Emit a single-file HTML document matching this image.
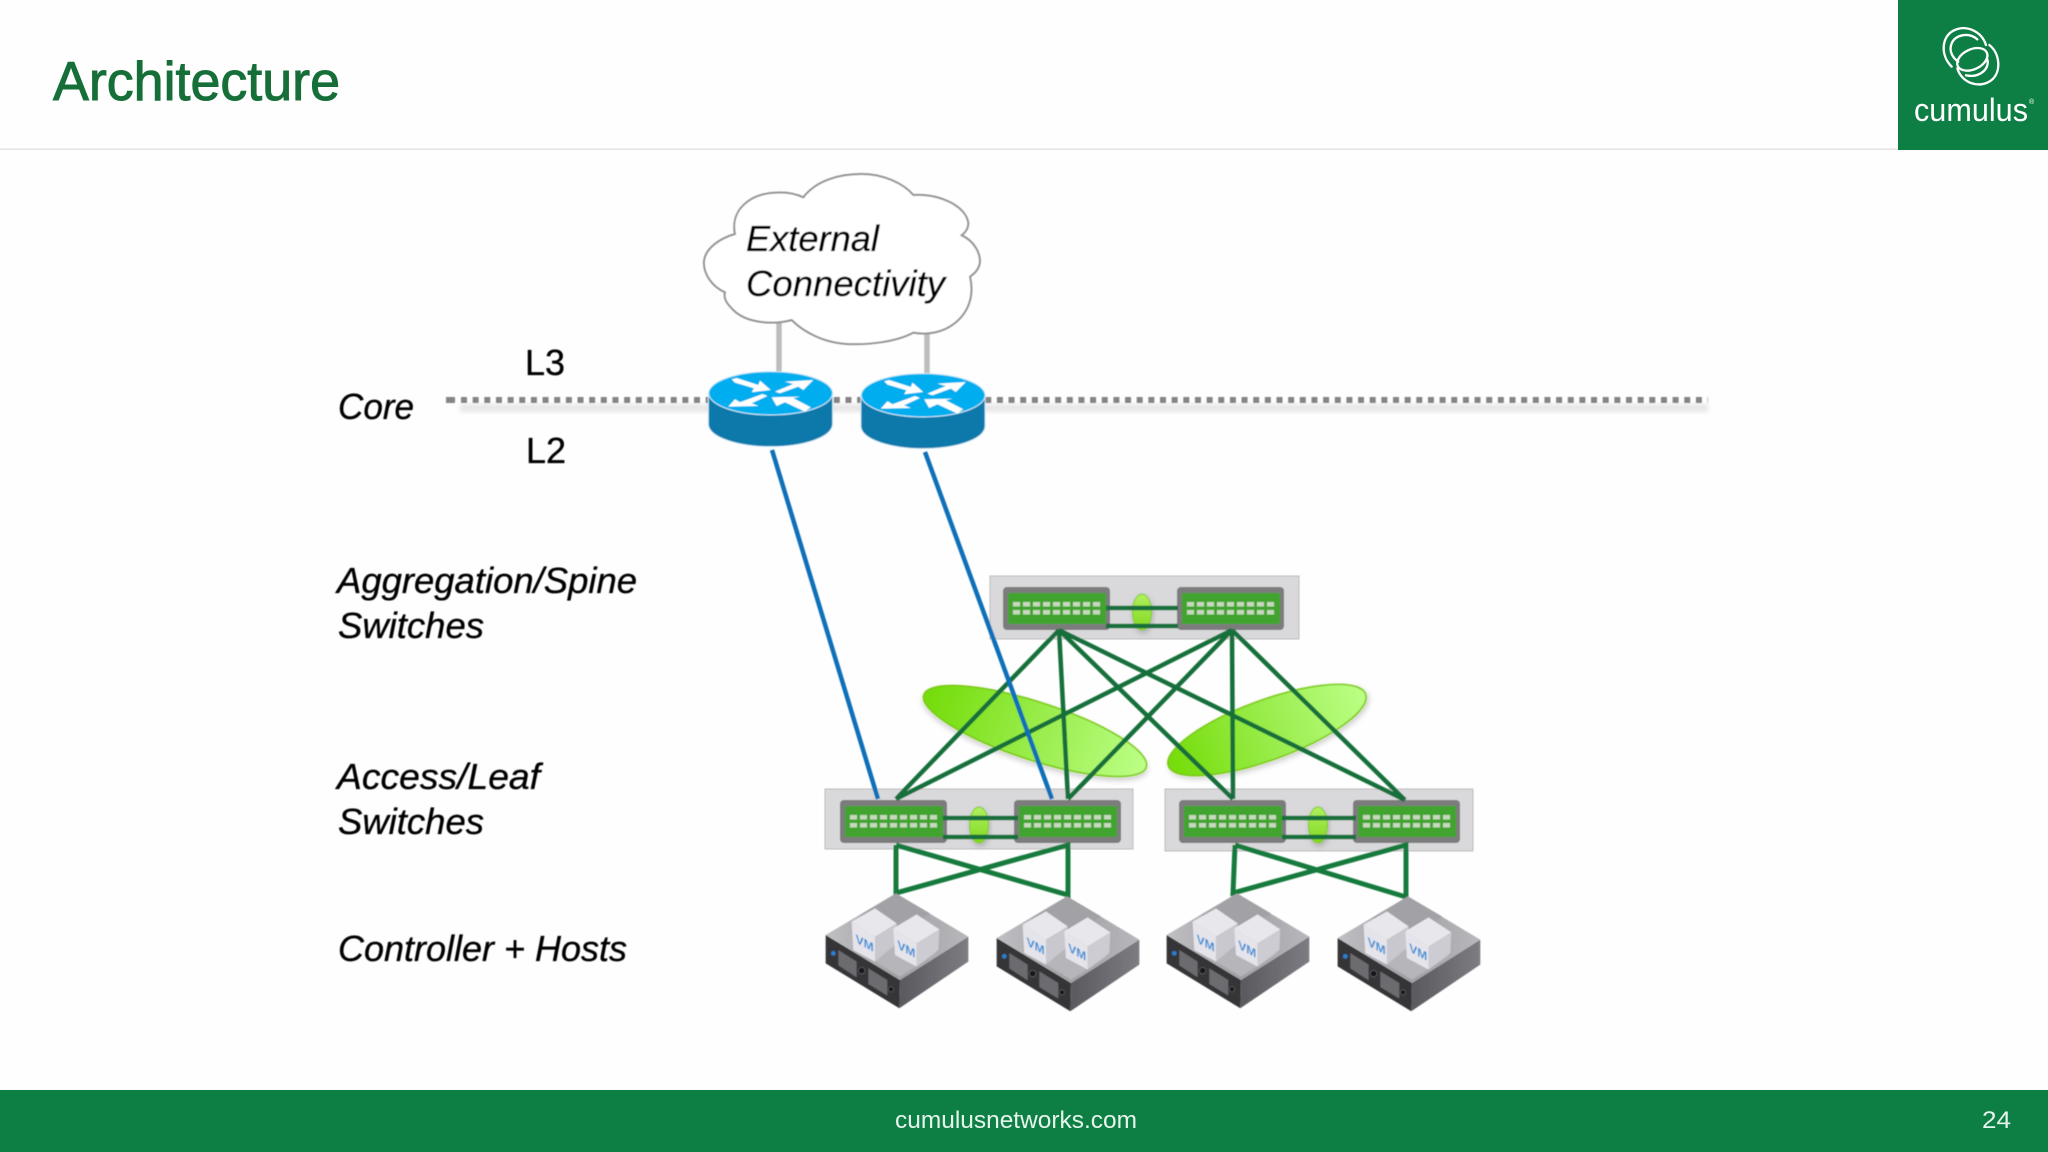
<!DOCTYPE html>
<html>
<head>
<meta charset="utf-8">
<style>
html,body{margin:0;padding:0;background:#fff;}
svg{display:block;}
text{font-family:"Liberation Sans",sans-serif;}
</style>
</head>
<body>
<svg width="2048" height="1152" viewBox="0 0 2048 1152" xmlns="http://www.w3.org/2000/svg">
<defs>
<linearGradient id="el" x1="0" x2="1" y1="0" y2="0"><stop offset="0" stop-color="#74dc08"/><stop offset=".55" stop-color="#9cee50"/><stop offset="1" stop-color="#bcff86"/></linearGradient>
<linearGradient id="sm" x1="0" x2="0" y1="0" y2="1"><stop offset="0" stop-color="#b0f060"/><stop offset="1" stop-color="#82d820"/></linearGradient>
<linearGradient id="topf" x1="0" x2="1" y1="0" y2="0"><stop offset="0" stop-color="#c0c0c4"/><stop offset=".5" stop-color="#a0a0a4"/><stop offset="1" stop-color="#b8b8bc"/></linearGradient>
<linearGradient id="rightf" x1="0" x2="1" y1="0" y2="0"><stop offset="0" stop-color="#59595e"/><stop offset="1" stop-color="#7c7c82"/></linearGradient>
<filter id="sh" x="-20%" y="-30%" width="140%" height="160%"><feDropShadow dx="1" dy="3" stdDeviation="3" flood-color="#000" flood-opacity=".2"/></filter>
<filter id="bl" x="-5%" y="-20%" width="110%" height="140%"><feGaussianBlur stdDeviation="2.5"/></filter>
<filter id="soft"><feGaussianBlur stdDeviation="0.5"/></filter>

<g id="sw">
<rect x="0" y="0" width="107" height="43" rx="4" fill="#7b7b7d"/>
<rect x="5" y="6" width="98" height="31" fill="#40a42f"/>
<g fill="#c6d8be">
<rect x="10" y="15" width="7" height="4.5"/><rect x="20" y="15" width="7" height="4.5"/><rect x="30" y="15" width="7" height="4.5"/><rect x="40" y="15" width="7" height="4.5"/><rect x="50" y="15" width="7" height="4.5"/><rect x="60" y="15" width="7" height="4.5"/><rect x="70" y="15" width="7" height="4.5"/><rect x="80" y="15" width="7" height="4.5"/><rect x="90" y="15" width="7" height="4.5"/>
<rect x="10" y="23" width="7" height="4.5"/><rect x="20" y="23" width="7" height="4.5"/><rect x="30" y="23" width="7" height="4.5"/><rect x="40" y="23" width="7" height="4.5"/><rect x="50" y="23" width="7" height="4.5"/><rect x="60" y="23" width="7" height="4.5"/><rect x="70" y="23" width="7" height="4.5"/><rect x="80" y="23" width="7" height="4.5"/><rect x="90" y="23" width="7" height="4.5"/>
</g>
</g>

<g id="router">
<path d="M85 700V795C90 835 180 860 272 860C365 860 452 835 458 795V700Z" fill="#0a79ab" stroke="#d4edf8" stroke-width="3"/>
<ellipse cx="272" cy="700" rx="186" ry="65" fill="#00aeef" stroke="#cdeaf7" stroke-width="3"/>
<g fill="#fff">
<polygon points="155,658 170,654 235,675 240,662 272,690 215,697 222,685 165,668"/>
<polygon points="285,695 340,672 315,665 400,660 370,690 355,680 300,700"/>
<polygon points="262,708 215,730 235,738 145,740 165,718 180,727 248,702"/>
<polygon points="392,742 340,715 360,710 275,712 290,738 315,727 375,755"/>
</g>
</g>

<g id="srv">
<polygon points="47,465 47,550 268,685 270,600" fill="#343438"/>
<polygon points="270,600 475,470 475,545 268,685" fill="url(#rightf)"/>
<polygon points="258,340 475,470 270,600 47,465" fill="url(#topf)"/>
<polygon points="258,340 360,400 250,470 150,405" fill="#a2a2a6"/>
<polygon points="200,520 270,480 380,520 270,590 140,510" fill="#b6b6ba"/>
<polygon points="85,510 140,545 140,592 85,556" fill="#6c6c70"/>
<polygon points="175,565 232,600 232,647 175,612" fill="#6c6c70"/>
<circle cx="70" cy="520" r="7" fill="#2a7fd0"/>
<circle cx="155" cy="572" r="10" fill="#18181a" stroke="#666" stroke-width="2"/>
<circle cx="243" cy="628" r="8" fill="#18181a" stroke="#666" stroke-width="2"/>
<polygon points="125,425 195,470 195,545 130,510" fill="#e4e4ea"/>
<polygon points="195,470 260,430 260,490 195,545" fill="#c8c8ce"/>
<polygon points="125,425 195,385 260,430 195,470" fill="#e8e8ec"/>
<polygon points="250,445 320,403 388,448 320,490" fill="#e8e8ec"/>
<polygon points="250,445 320,490 320,560 255,525" fill="#e4e4ea"/>
<polygon points="320,490 388,448 385,510 320,560" fill="#ccccd2"/>
</g>
</defs>

<rect width="2048" height="1152" fill="#fefefe"/>
<rect x="0" y="148.5" width="1898" height="1.5" fill="#e4e4e4"/>
<text x="53" y="100" font-size="55" fill="#166f38" stroke="#166f38" stroke-width="1" textLength="287" lengthAdjust="spacingAndGlyphs">Architecture</text>

<!-- logo -->
<rect x="1898" y="0" width="150" height="150" fill="#0e7f44"/>
<g transform="translate(1880 0) scale(.3333)" fill="none" stroke="#fff" stroke-width="7" stroke-linecap="round">
<path d="M215 200C180 165 185 110 220 92C260 72 305 95 318 135"/>
<path d="M292 118C265 95 225 105 215 130C205 155 220 175 235 185"/>
<ellipse cx="277" cy="178" rx="48" ry="30" transform="rotate(-25 277 178)"/>
<path d="M328 135C360 160 365 215 335 240C300 268 245 250 232 205"/>
<path d="M322 178C330 205 300 235 258 226"/>
</g>
<text x="1914" y="121" font-size="32" fill="#fff" textLength="114" lengthAdjust="spacingAndGlyphs">cumulus</text>
<text x="2029" y="104" font-size="7" fill="#fff">®</text>

<!-- diagram -->
<g filter="url(#soft)">
<!-- dotted -->
<rect x="460" y="404" width="1248" height="8" fill="#e6e6e6" filter="url(#bl)"/>
<line x1="446" y1="400" x2="455" y2="400" stroke="#848484" stroke-width="6"/>
<line x1="461" y1="400" x2="1708" y2="400" stroke="#848484" stroke-width="6" stroke-dasharray="6 5.65"/>

<!-- gray links -->
<line x1="779" y1="320" x2="779" y2="374" stroke="#bdbdbd" stroke-width="5.5"/>
<line x1="927" y1="330" x2="927" y2="375" stroke="#bdbdbd" stroke-width="5.5"/>

<!-- cloud -->
<g transform="translate(680 160) scale(.3333)">
<path d="M165 222C150 150 210 100 290 98C320 96 350 103 370 112C410 60 480 42 545 42C610 42 670 70 700 105C780 100 860 140 865 190C865 205 855 218 845 226C885 245 900 280 900 305C898 325 885 340 870 350C882 400 870 450 830 485C790 520 740 525 700 518C650 545 570 555 500 552C430 548 370 515 335 480C280 495 200 490 160 450C140 430 130 415 135 397C95 380 70 340 72 305C75 265 120 235 165 222Z" fill="#fff" stroke="#929292" stroke-width="6"/>
</g>

<!-- routers -->
<use href="#router" transform="translate(680 160) scale(.3333)"/>
<use href="#router" transform="translate(832.5 162) scale(.3333)"/>

<!-- big ellipses -->
<ellipse cx="1035" cy="731" rx="117" ry="29" transform="rotate(18 1035 731)" fill="url(#el)" stroke="#79c816" stroke-width="1.5" filter="url(#sh)"/>
<ellipse cx="1267" cy="730" rx="105" ry="30" transform="rotate(-20 1267 730)" fill="url(#el)" stroke="#79c816" stroke-width="1.5" filter="url(#sh)"/>

<!-- boxes -->
<rect x="990" y="576" width="309" height="63" fill="#d9d9db" stroke="#bcbcbc" stroke-width="1"/>
<rect x="825" y="789" width="308" height="60" fill="#d9d9db" stroke="#bcbcbc" stroke-width="1"/>
<rect x="1165" y="789" width="308" height="62" fill="#d9d9db" stroke="#bcbcbc" stroke-width="1"/>

<!-- small ellipses -->
<ellipse cx="1142" cy="612" rx="9.5" ry="18" fill="url(#sm)" stroke="#7ccc1c" filter="url(#sh)"/>
<ellipse cx="979" cy="825" rx="9.5" ry="18" fill="url(#sm)" stroke="#7ccc1c" filter="url(#sh)"/>
<ellipse cx="1318" cy="825" rx="9.5" ry="18" fill="url(#sm)" stroke="#7ccc1c" filter="url(#sh)"/>

<!-- switches -->
<use href="#sw" x="1003" y="587"/>
<use href="#sw" x="1177" y="587"/>
<use href="#sw" x="840" y="800"/>
<use href="#sw" x="1014" y="800"/>
<use href="#sw" x="1179" y="800"/>
<use href="#sw" x="1353" y="800"/>

<!-- peer links & fabric -->
<g stroke="#15703a" stroke-width="4.5" fill="none">
<path d="M1106 608H1178M1106 626H1178"/>
<path d="M943 818H1018M943 837H1018"/>
<path d="M1282 818H1356M1282 837H1356"/>
<path d="M1059 630L896 799M1059 630L1068 799M1059 630L1233 799M1059 630L1405 800"/>
<path d="M1232 630L896 799M1232 630L1068 799M1232 630L1233 799M1232 630L1405 800"/>
</g>
<g stroke="#177a3c" stroke-width="5" fill="none">
<path d="M896 845V893L1068 845V895L896 845"/>
<path d="M1235 845L1233 893L1406 845V897L1235 845"/>
</g>

<!-- blue links -->
<line x1="772" y1="450" x2="878" y2="799" stroke="#0f70b8" stroke-width="4.5"/>
<line x1="925" y1="452" x2="1052" y2="799" stroke="#0f70b8" stroke-width="4.5"/>

<!-- servers -->
<g transform="translate(810 780) scale(.3333)">
<use href="#srv"/>
<use href="#srv" x="513" y="9"/>
<use href="#srv" x="1023" y="0"/>
<use href="#srv" x="1536" y="9"/>
<g font-weight="700" font-size="36" fill="#3c8fd6">
<text transform="translate(137 487) skewY(28)">VM</text>
<text transform="translate(262 505) skewY(28)">VM</text>
<text transform="translate(650 496) skewY(28)">VM</text>
<text transform="translate(775 514) skewY(28)">VM</text>
<text transform="translate(1160 487) skewY(28)">VM</text>
<text transform="translate(1285 505) skewY(28)">VM</text>
<text transform="translate(1673 496) skewY(28)">VM</text>
<text transform="translate(1798 514) skewY(28)">VM</text>
</g>
</g>

<!-- labels -->
<g fill="#000" stroke="#000" stroke-width=".35" font-size="36">
<g font-style="italic">
<text x="746" y="251" textLength="133" lengthAdjust="spacingAndGlyphs">External</text>
<text x="746" y="296" textLength="199" lengthAdjust="spacingAndGlyphs">Connectivity</text>
<text x="338" y="419" textLength="76" lengthAdjust="spacingAndGlyphs">Core</text>
<text x="337" y="593" textLength="300" lengthAdjust="spacingAndGlyphs">Aggregation/Spine</text>
<text x="338" y="638" textLength="146" lengthAdjust="spacingAndGlyphs">Switches</text>
<text x="337" y="789" textLength="203" lengthAdjust="spacingAndGlyphs">Access/Leaf</text>
<text x="338" y="834" textLength="146" lengthAdjust="spacingAndGlyphs">Switches</text>
<text x="338" y="961" textLength="289" lengthAdjust="spacingAndGlyphs">Controller + Hosts</text>
</g>
<text x="525" y="375">L3</text>
<text x="526" y="463">L2</text>
</g>
</g>

<!-- footer -->
<rect x="0" y="1090" width="2048" height="62" fill="#0e7f44"/>
<text x="895" y="1128" font-size="24" fill="#e6f5ec" textLength="242" lengthAdjust="spacingAndGlyphs">cumulusnetworks.com</text>
<text x="1982" y="1128" font-size="24" fill="#e6f5ec" textLength="29" lengthAdjust="spacingAndGlyphs">24</text>
</svg>
</body>
</html>
